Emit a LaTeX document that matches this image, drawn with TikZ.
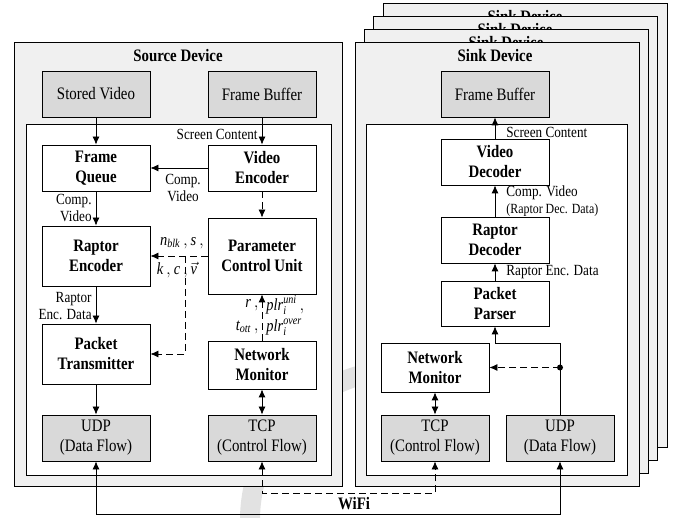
\documentclass[tikz,border=0pt]{standalone}
\usepackage{fontspec}
\usepackage{amsmath}
\setmainfont{Liberation Serif}[FakeStretch=0.85]
\usetikzlibrary{arrows.meta}

\definecolor{devfill}{HTML}{F0F0F0}
\definecolor{boxgray}{HTML}{D9D9D9}
\definecolor{markgray}{HTML}{E2E2E2}
\newcommand\boxfont{\fontsize{17.5}{20}\selectfont}
\newcommand\lblfont{\fontsize{15.5}{17}\selectfont}
\newcommand\smallfont{\fontsize{14}{16}\selectfont}
\newcommand\mathfont{\fontsize{17}{19}\selectfont}
\newcommand\vi[1]{\textit{#1}}

\begin{document}
\begin{tikzpicture}[x=1pt,y=-1pt,
  line width=0.8pt,
  device/.style={draw, fill=devfill, minimum width=284pt, minimum height=444pt, inner sep=0pt},
  innerbox/.style={draw, fill=white, inner sep=0pt},
  title/.style={font=\boxfont\bfseries},
  graybox/.style={draw, fill=boxgray, minimum width=108pt, minimum height=46pt, align=center, font=\boxfont, inner sep=0pt},
  block/.style={draw, fill=white, minimum width=108pt, align=center, font=\boxfont\bfseries, inner sep=0pt},
  lbl/.style={font=\lblfont, inner sep=1pt},
  arr/.style={-{Latex[length=8pt,width=7pt]}},
  darr/.style={{Latex[length=8pt,width=7pt]}-{Latex[length=8pt,width=7pt]}},
  dsh/.style={dash pattern=on 7pt off 4pt}
]
\useasboundingbox (0,0) rectangle (680,518);

% faint background ring
\draw[markgray, line width=20pt] (250,520) arc[start angle=180, end angle=270, radius=150];

% ---------- stacked sink devices (back to front) ----------
\node[device] (sink3) at (525,225) {};
\node[title] at (525,17) {Sink Device};
\node[device] (sink2) at (515,238) {};
\node[title] at (515,30) {Sink Device};
\node[device] (sink1) at (506,251) {};
\node[title] at (506,43) {Sink Device};
\node[device] (sink) at (497,264) {};
\node[title] (sinkt) at (495,56) {Sink Device};

% ---------- source device ----------
\node[device, minimum width=328pt] (src) at (178,264) {};
\node[title] (srct) at (178,56) {Source Device};
\node[innerbox, minimum width=305pt, minimum height=351pt] (srcin) at (178.5,299.5) {};
\node[innerbox, minimum width=261pt, minimum height=351pt] (sinkin) at (496.5,299.5) {};

% source blocks
\node[graybox] (stored) at (96,94) {Stored Video};
\node[graybox] (fbs) at (262,94) {Frame Buffer};
\node[block, minimum height=46pt] (fq) at (96,168) {Frame\\Queue};
\node[block, minimum height=46pt] (ve) at (262,168) {Video\\Encoder};
\node[block, minimum height=60pt] (re) at (96,256) {Raptor\\Encoder};
\node[block, minimum height=76pt] (pcu) at (262,256) {Parameter\\Control Unit};
\node[block, minimum height=60pt] (pt) at (96,354) {Packet\\Transmitter};
\node[block, minimum height=48pt] (nms) at (262,365) {Network\\Monitor};
\node[graybox] (udps) at (96,438) {UDP\\(Data Flow)};
\node[graybox] (tcps) at (262,438) {TCP\\(Control Flow)};

% sink blocks
\node[graybox] (fbk) at (495,94) {Frame Buffer};
\node[block, minimum height=46pt] (vd) at (495,162) {Video\\Decoder};
\node[block, minimum height=46pt] (rd) at (495,240) {Raptor\\Decoder};
\node[block, minimum height=45pt] (pp) at (495,303.5) {Packet\\Parser};
\node[block, minimum height=49pt] (nmk) at (435,367.5) {Network\\Monitor};
\node[graybox] (tcpk) at (435,438) {TCP\\(Control Flow)};
\node[graybox] (udpk) at (560,438) {UDP\\(Data Flow)};

% ---------- source connectors ----------
\draw[arr] (stored.south) -- (fq.north);
\draw[arr] (fbs.south) -- (ve.north);
\node[lbl, anchor=east] at (259,134) {Screen Content};
\draw[arr] (ve.west) -- (fq.east);
\node[lbl, align=center] at (183,188) {Comp.\\Video};
\draw[arr] (fq.south) -- (re.north);
\node[lbl, align=right, anchor=east] at (93,208) {Comp.\\Video};
\draw[arr] (re.south) -- (pt.north);
\node[lbl, align=right, anchor=east] at (93,306) {Raptor\\Enc. Data};
\draw[arr] (pt.south) -- (udps.north);

\draw[arr, dsh] (ve.south) -- (pcu.north);
\draw[arr, dsh] (pcu.west) -- (re.east);
\coordinate (tap) at (185,256);
\draw[arr, dsh] (tap) |- (pt.east);
\node[font=\mathfont, inner sep=0pt] at (182,243) {$\vi{n}_{\vi{blk}}\,,\vi{s}\,,$};
\node[font=\mathfont, inner sep=0pt] at (177,270) {$\vi{k}\,,\vi{c}\,,\vec{\vi{v}}$};

\draw[arr, dsh] (nms.north) -- (pcu.south);
\node[font=\mathfont, inner sep=0pt, anchor=east] at (259,305) {$\vi{r}\,,$};
\node[font=\mathfont, inner sep=0pt, anchor=east] at (259,327) {$\vi{t}_{\vi{ott}}\,,$};
\node[font=\mathfont, inner sep=0pt, anchor=west] at (266,305) {$\vi{plr}_{\vi{i}}^{\vi{uni}}\,,$};
\node[font=\mathfont, inner sep=0pt, anchor=west] at (266,327) {$\vi{plr}_{\vi{i}}^{\vi{over}}$};
\draw[darr] (nms.south) -- (tcps.north);

% ---------- sink connectors ----------
\draw[arr] (vd.north) -- (fbk.south);
\node[lbl, anchor=west] at (505,132) {Screen Content};
\draw[arr] (rd.north) -- (vd.south);
\node[lbl, anchor=west] at (505,193) {Comp. Video};
\node[font=\smallfont, anchor=west, inner sep=1pt] at (505,210) {(Raptor Dec. Data)};
\draw[arr] (pp.north) -- (rd.south);
\node[lbl, anchor=west] at (505,272) {Raptor Enc. Data};

\coordinate (ppin) at (0,343);
\draw[arr] (udpk.north) |- (pp.south |- ppin) -- (pp.south);
\coordinate (jn) at (udpk.north |- nmk.east);
\fill (jn) circle (3pt);
\draw[arr, dsh] (jn) -- (nmk.east);
\draw[darr] (nmk.south) -- (tcpk.north);

% ---------- WiFi links ----------
\coordinate (wd) at (0,493);
\coordinate (ws) at (0,514);
\draw[darr] (udps.south) -- (udps.south |- ws) -| (udpk.south);
\draw[darr, dsh] (tcps.south) -- (tcps.south |- wd) -| (tcpk.south);
\node[font=\boxfont\bfseries] (wifi) at (354,504) {WiFi};
\end{tikzpicture}
\end{document}
